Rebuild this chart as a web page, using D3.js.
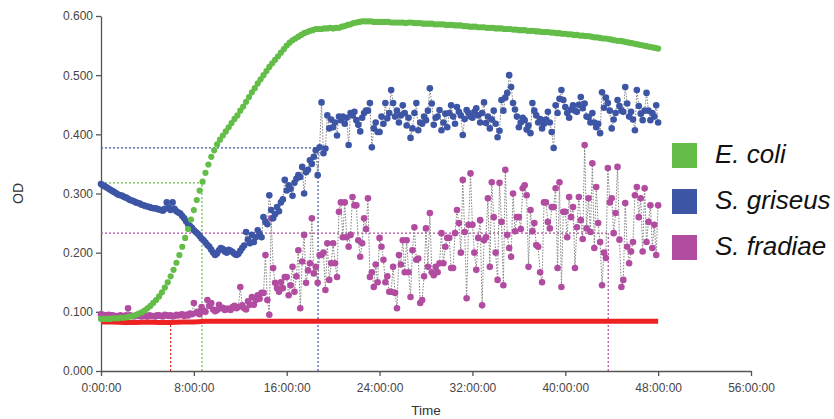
<!DOCTYPE html>
<html>
<head>
<meta charset="utf-8">
<script src="https://cdn.jsdelivr.net/npm/d3@7"></script>
<style>
body { margin: 0; background: #fff; }
svg { display: block; font-family: "Liberation Sans", Arial, sans-serif; }
</style>
</head>
<body>
<div id="chart"></div>
<script>
// OD readings, one row = one hour
const ecoliStep = 0.25;   // every 15 min
const strepStep = 1 / 6;  // every 10 min

const species = ["E. coli", "S. griseus", "S. fradiae"];

const ecoli = [
  0.088, 0.088, 0.088, 0.088,
  0.089, 0.089, 0.089, 0.090,
  0.090, 0.091, 0.092, 0.093,
  0.095, 0.097, 0.099, 0.102,
  0.106, 0.110, 0.115, 0.120,
  0.126, 0.133, 0.141, 0.150,
  0.160, 0.171, 0.183, 0.196,
  0.210, 0.225, 0.240, 0.256,
  0.272, 0.289, 0.305, 0.320,
  0.335, 0.349, 0.362, 0.373,
  0.383, 0.391, 0.398, 0.405,
  0.412, 0.419, 0.426, 0.432,
  0.440, 0.447, 0.455, 0.463,
  0.471, 0.478, 0.486, 0.493,
  0.500, 0.507, 0.514, 0.520,
  0.526, 0.532, 0.538, 0.544,
  0.550, 0.555, 0.559, 0.562,
  0.565, 0.568, 0.571, 0.573,
  0.575, 0.576, 0.578, 0.578,
  0.578, 0.579, 0.579, 0.580,
  0.579, 0.580, 0.580, 0.582,
  0.583, 0.585, 0.586, 0.588,
  0.589, 0.590, 0.591, 0.591,
  0.591, 0.591, 0.590, 0.590,
  0.590, 0.590, 0.590, 0.590,
  0.589, 0.589, 0.589, 0.589,
  0.589, 0.588, 0.589, 0.589,
  0.588, 0.588, 0.588, 0.587,
  0.587, 0.587, 0.587, 0.586,
  0.586, 0.586, 0.586, 0.585,
  0.585, 0.585, 0.584, 0.584,
  0.584, 0.583, 0.583, 0.582,
  0.582, 0.582, 0.581, 0.581,
  0.581, 0.580, 0.580, 0.580,
  0.579, 0.579, 0.579, 0.578,
  0.578, 0.578, 0.577, 0.577,
  0.576, 0.576, 0.576, 0.575,
  0.575, 0.575, 0.574, 0.574,
  0.573, 0.573, 0.573, 0.572,
  0.572, 0.571, 0.571, 0.570,
  0.570, 0.569, 0.569, 0.568,
  0.568, 0.567, 0.567, 0.566,
  0.566, 0.565, 0.564, 0.564,
  0.563, 0.562, 0.562, 0.561,
  0.560, 0.559, 0.558, 0.558,
  0.557, 0.556, 0.555, 0.554,
  0.553, 0.552, 0.551, 0.550,
  0.549, 0.548, 0.547, 0.546,
  0.545
];

const sgriseus = [
  0.316, 0.314, 0.312, 0.310, 0.308, 0.306,
  0.304, 0.302, 0.300, 0.298, 0.297, 0.296,
  0.294, 0.293, 0.291, 0.289, 0.288, 0.287,
  0.285, 0.284, 0.283, 0.281, 0.280, 0.279,
  0.278, 0.277, 0.276, 0.275, 0.275, 0.274,
  0.273, 0.272, 0.271, 0.274, 0.285, 0.276,
  0.272, 0.285, 0.274, 0.270, 0.268, 0.266,
  0.262, 0.258, 0.253, 0.248, 0.245, 0.242,
  0.238, 0.235, 0.232, 0.228, 0.224, 0.221,
  0.217, 0.213, 0.210, 0.205, 0.200, 0.196,
  0.199, 0.204, 0.208, 0.206, 0.202, 0.200,
  0.205, 0.203, 0.201, 0.198, 0.196, 0.198,
  0.203, 0.208, 0.212, 0.235, 0.222, 0.216,
  0.230, 0.218, 0.226, 0.238, 0.232, 0.226,
  0.260, 0.252, 0.248, 0.297, 0.272, 0.258,
  0.265, 0.277, 0.270, 0.285, 0.290, 0.323,
  0.305, 0.314, 0.308, 0.296, 0.318, 0.325,
  0.331, 0.328, 0.345, 0.300, 0.336, 0.340,
  0.356, 0.350, 0.362, 0.373, 0.331, 0.378,
  0.454, 0.368, 0.376, 0.432, 0.410, 0.425,
  0.412, 0.420, 0.398, 0.430, 0.424, 0.430,
  0.418, 0.428, 0.382, 0.436, 0.432, 0.438,
  0.424, 0.416, 0.405, 0.428, 0.436, 0.440,
  0.440, 0.453, 0.378, 0.410, 0.420, 0.404,
  0.404, 0.430, 0.418, 0.453, 0.427, 0.436,
  0.475, 0.453, 0.430, 0.440, 0.420, 0.432,
  0.449, 0.436, 0.415, 0.428, 0.394, 0.410,
  0.436, 0.453, 0.407, 0.420, 0.418, 0.430,
  0.424, 0.440, 0.478, 0.452, 0.416, 0.428,
  0.430, 0.441, 0.407, 0.420, 0.435, 0.412,
  0.436, 0.449, 0.430, 0.418, 0.446, 0.438,
  0.432, 0.399, 0.426, 0.441, 0.436, 0.430,
  0.428, 0.438, 0.444, 0.432, 0.420, 0.436,
  0.454, 0.419, 0.430, 0.410, 0.425, 0.440,
  0.418, 0.395, 0.406, 0.458, 0.440, 0.462,
  0.470, 0.500, 0.480, 0.453, 0.442, 0.430,
  0.412, 0.420, 0.428, 0.424, 0.408, 0.415,
  0.402, 0.453, 0.440, 0.432, 0.420, 0.426,
  0.410, 0.418, 0.425, 0.438, 0.420, 0.404,
  0.377, 0.449, 0.436, 0.460, 0.475, 0.458,
  0.446, 0.436, 0.428, 0.442, 0.449, 0.440,
  0.438, 0.450, 0.463, 0.444, 0.452, 0.430,
  0.429, 0.420, 0.436, 0.420, 0.412, 0.418,
  0.402, 0.471, 0.445, 0.462, 0.453, 0.440,
  0.410, 0.425, 0.436, 0.458, 0.448, 0.440,
  0.438, 0.480, 0.452, 0.430, 0.438, 0.425,
  0.407, 0.475, 0.448, 0.435, 0.424, 0.440,
  0.470, 0.440, 0.424, 0.436, 0.430, 0.449,
  0.420
];

const sfradiae = [
  0.096, 0.095, 0.094, 0.093, 0.095, 0.094,
  0.094, 0.093, 0.093, 0.092, 0.094, 0.093,
  0.093, 0.094, 0.106, 0.094, 0.093, 0.092,
  0.093, 0.094, 0.093, 0.092, 0.094, 0.093,
  0.092, 0.094, 0.093, 0.093, 0.092, 0.094,
  0.094, 0.093, 0.092, 0.095, 0.094, 0.093,
  0.094, 0.092, 0.093, 0.095, 0.094, 0.095,
  0.096, 0.093, 0.095, 0.094, 0.097, 0.096,
  0.115, 0.098, 0.100, 0.096, 0.108, 0.102,
  0.100, 0.120, 0.110, 0.115, 0.104, 0.101,
  0.103, 0.112, 0.106, 0.107, 0.103, 0.105,
  0.105, 0.103, 0.108, 0.110, 0.106, 0.108,
  0.142, 0.111, 0.106, 0.104, 0.118, 0.112,
  0.125, 0.112, 0.120, 0.128, 0.122, 0.132,
  0.132, 0.196, 0.120, 0.095, 0.258, 0.174,
  0.149, 0.140, 0.134, 0.150, 0.140, 0.159,
  0.159, 0.128, 0.145, 0.176, 0.134, 0.160,
  0.204, 0.106, 0.185, 0.230, 0.149, 0.170,
  0.182, 0.258, 0.165, 0.176, 0.149, 0.196,
  0.196, 0.200, 0.137, 0.216, 0.154, 0.182,
  0.216, 0.182, 0.159, 0.269, 0.285, 0.226,
  0.285, 0.226, 0.210, 0.230, 0.294, 0.280,
  0.280, 0.221, 0.193, 0.216, 0.258, 0.240,
  0.292, 0.159, 0.167, 0.142, 0.180, 0.150,
  0.225, 0.210, 0.188, 0.150, 0.160, 0.134,
  0.134, 0.176, 0.132, 0.106, 0.196, 0.180,
  0.221, 0.167, 0.221, 0.167, 0.125, 0.204,
  0.243, 0.188, 0.190, 0.115, 0.120, 0.160,
  0.241, 0.176, 0.267, 0.167, 0.162, 0.176,
  0.167, 0.182, 0.233, 0.182, 0.210, 0.225,
  0.225, 0.174, 0.174, 0.233, 0.272, 0.250,
  0.200, 0.323, 0.235, 0.123, 0.247, 0.334,
  0.247, 0.200, 0.171, 0.225, 0.255, 0.111,
  0.221, 0.226, 0.292, 0.176, 0.319, 0.260,
  0.200, 0.154, 0.318, 0.252, 0.145, 0.340,
  0.230, 0.208, 0.193, 0.300, 0.236, 0.260,
  0.260, 0.240, 0.309, 0.314, 0.297, 0.176,
  0.272, 0.236, 0.250, 0.213, 0.210, 0.167,
  0.150, 0.285, 0.285, 0.252, 0.241, 0.277,
  0.277, 0.309, 0.174, 0.319, 0.142, 0.269,
  0.269, 0.226, 0.294, 0.260, 0.277, 0.174,
  0.243, 0.294, 0.255, 0.223, 0.382, 0.241,
  0.292, 0.235, 0.351, 0.208, 0.311, 0.250,
  0.218, 0.145, 0.200, 0.191, 0.343, 0.285,
  0.292, 0.233, 0.267, 0.345, 0.222, 0.142,
  0.154, 0.284, 0.210, 0.182, 0.202, 0.218,
  0.297, 0.311, 0.260, 0.292, 0.202, 0.309,
  0.218, 0.252, 0.280, 0.208, 0.247, 0.196,
  0.280
];

// blank medium, hourly
const blank = [
  0.083, 0.083, 0.082, 0.082, 0.083, 0.082, 0.082, 0.083, 0.083, 0.084,
  0.084, 0.084, 0.084, 0.084, 0.084, 0.084, 0.084, 0.084, 0.084, 0.084,
  0.084, 0.084, 0.084, 0.084, 0.084, 0.084, 0.084, 0.084, 0.084, 0.084,
  0.084, 0.084, 0.084, 0.084, 0.084, 0.084, 0.084, 0.084, 0.084, 0.084,
  0.084, 0.084, 0.084, 0.084, 0.084, 0.084, 0.084, 0.084, 0.084
];

// [time (h), OD] of the dotted guide lines: blank, E. coli, S. griseus, S. fradiae
const guides = [[6.0, 0.084], [8.7, 0.318], [18.7, 0.377], [43.7, 0.233]];

const xTicks = [0, 8, 16, 24, 32, 40, 48, 56];
const yTicks = [0, 0.1, 0.2, 0.3, 0.4, 0.5, 0.6];

const colors = ["#63bd48", "#3d55a5", "#b24ca0"];
const red = "#ee2222";
const guideColors = [red, "#63bd48", "#3d55a5", "#b24ca0"];

const width = 834, height = 419;

const svg = d3.select("#chart")
  .append("svg")
  .attr("width", width)
  .attr("height", height);

const x = d3.scaleLinear().domain([0, 56]).range([101, 751]);
const y = d3.scaleLinear().domain([0, 0.6]).range([371, 16]);

// axes
const yAxis = svg.append("g")
  .attr("transform", "translate(" + x(0) + ",0)")
  .call(d3.axisLeft(y).tickValues(yTicks).tickFormat(d3.format(".3f")).tickSize(5).tickSizeOuter(0).tickPadding(3));

const xAxis = svg.append("g")
  .attr("transform", "translate(0," + y(0) + ")")
  .call(d3.axisBottom(x).tickValues(xTicks).tickFormat(d => d + ":00:00").tickSize(5).tickSizeOuter(0).tickPadding(7));

[xAxis, yAxis].forEach(function(a) {
  a.select(".domain").attr("stroke", "#555").attr("stroke-width", 1.3);
  a.selectAll(".tick line").attr("stroke", "#555").attr("stroke-width", 1.3);
  a.selectAll(".tick text")
    .attr("fill", "#4a4444")
    .attr("font-family", "'Liberation Sans', Arial, sans-serif")
    .attr("font-size", "12px");
});

svg.append("text")
  .attr("x", x(28))
  .attr("y", 415)
  .attr("text-anchor", "middle")
  .attr("fill", "#333")
  .attr("font-size", "13.5px")
  .text("Time");

svg.append("text")
  .attr("transform", "translate(23," + y(0.3) + ") rotate(-90)")
  .attr("text-anchor", "middle")
  .attr("fill", "#333")
  .attr("font-size", "14px")
  .text("OD");

// dotted guides, horizontal then vertical
guides.forEach(function(g, i) {
  svg.append("line")
    .attr("x1", x(0)).attr("x2", x(g[0]))
    .attr("y1", y(g[1])).attr("y2", y(g[1]))
    .attr("stroke", guideColors[i])
    .attr("stroke-width", 1.2)
    .attr("stroke-dasharray", "2,2");
  svg.append("line")
    .attr("x1", x(g[0])).attr("x2", x(g[0]))
    .attr("y1", y(0)).attr("y2", y(g[1]))
    .attr("stroke", guideColors[i])
    .attr("stroke-width", 1.2)
    .attr("stroke-dasharray", "2,2");
});

// blank as a thick red line
svg.append("path")
  .datum(blank)
  .attr("fill", "none")
  .attr("stroke", red)
  .attr("stroke-width", 5)
  .attr("d", d3.line().x((d, i) => x(i)).y(d => y(d)));

// scatter series, optionally with dotted grey connectors
function series(values, step, color, r, connect) {
  if (connect) {
    svg.append("path")
      .datum(values)
      .attr("fill", "none")
      .attr("stroke", "#808080")
      .attr("stroke-width", 1)
      .attr("stroke-dasharray", "1.5,1.5")
      .attr("d", d3.line().x((d, i) => x(i * step)).y(d => y(d)));
  }
  svg.append("g")
    .selectAll("circle")
    .data(values)
    .enter()
    .append("circle")
    .attr("cx", (d, i) => x(i * step))
    .attr("cy", d => y(d))
    .attr("r", r)
    .attr("fill", color);
}

series(sfradiae, strepStep, colors[2], 3.3, true);
series(sgriseus, strepStep, colors[1], 3.3, true);
series(ecoli, ecoliStep, colors[0], 3.1, false);

// legend
const legend = svg.selectAll(".legend")
  .data(species)
  .enter().append("g")
  .attr("class", "legend")
  .attr("transform", (d, i) => "translate(672," + (143 + i * 46) + ")");

legend.append("rect")
  .attr("width", 25)
  .attr("height", 25)
  .attr("fill", (d, i) => colors[i]);

legend.append("text")
  .attr("x", 43)
  .attr("y", 20)
  .attr("font-size", "26px")
  .attr("font-style", "italic")
  .attr("fill", "#111")
  .text(d => d);
</script>
</body>
</html>
